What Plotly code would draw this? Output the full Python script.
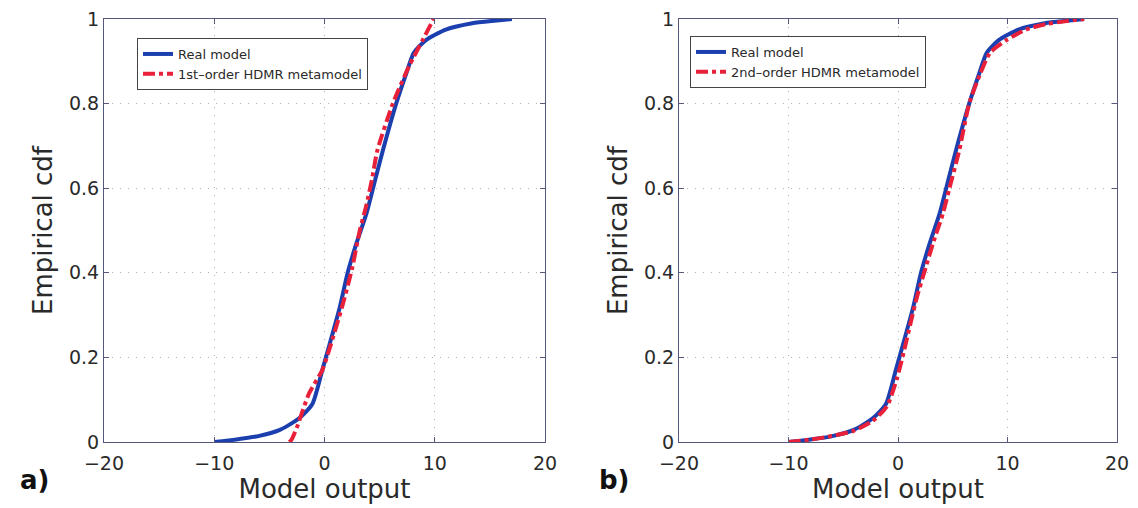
import plotly.graph_objects as go

# ---- data ----
real_x = [-10.0, -8.0, -6.0, -4.1, -2.3, -1.1, -0.2, 0.45, 1.4, 2.1, 2.9, 3.8, 4.5, 5.3, 6.5, 7.4, 8.1, 9.2, 11.0, 13.4, 15.4, 17.0]
real_y = [0.0, 0.006, 0.014, 0.028, 0.056, 0.09, 0.17, 0.23, 0.32, 0.40, 0.47, 0.54, 0.61, 0.69, 0.80, 0.87, 0.92, 0.95, 0.975, 0.99, 0.996, 1.0]

hdmr1_x = [-3.2, -3.0, -2.5, -1.4, -0.2, 0.45, 1.6, 2.5, 3.2, 3.8, 4.3, 4.8, 6.2, 7.7, 8.9, 9.9]
hdmr1_y = [0.0, 0.005, 0.035, 0.115, 0.17, 0.22, 0.32, 0.41, 0.50, 0.56, 0.62, 0.69, 0.80, 0.89, 0.95, 1.0]

hdmr2_x = [-10.0, -8.0, -6.5, -4.1, -2.3, -1.0, -0.1, 0.5, 1.7, 2.5, 3.2, 4.1, 4.7, 5.6, 6.5, 7.5, 8.4, 9.9, 11.7, 13.5, 15.4, 17.0]
hdmr2_y = [0.0, 0.006, 0.012, 0.026, 0.05, 0.085, 0.15, 0.21, 0.34, 0.41, 0.47, 0.54, 0.60, 0.69, 0.80, 0.87, 0.92, 0.95, 0.975, 0.988, 0.995, 1.0]

x_ticks = [-20, -10, 0, 10, 20]
y_ticks = [0, 0.2, 0.4, 0.6, 0.8, 1]

BLUE = "#1b3fae"
RED = "#e8203a"
FONT = "DejaVu Sans, Liberation Sans, sans-serif"
TXT = "#2a2a2a"

fig = go.Figure()

line_blue = dict(color=BLUE, width=4, shape="spline", smoothing=0.6)
line_red = dict(color=RED, width=4, dash="dashdot", shape="spline", smoothing=0.6)

fig.add_trace(go.Scatter(x=real_x, y=real_y, mode="lines", name="Real model",
                         line=line_blue, xaxis="x", yaxis="y", legend="legend"))
fig.add_trace(go.Scatter(x=hdmr1_x, y=hdmr1_y, mode="lines", name="1st\u2013order HDMR metamodel",
                         line=line_red, xaxis="x", yaxis="y", legend="legend"))
fig.add_trace(go.Scatter(x=real_x, y=real_y, mode="lines", name="Real model",
                         line=line_blue, xaxis="x2", yaxis="y2", legend="legend2"))
fig.add_trace(go.Scatter(x=hdmr2_x, y=hdmr2_y, mode="lines", name="2nd\u2013order HDMR metamodel",
                         line=line_red, xaxis="x2", yaxis="y2", legend="legend2"))

# page has an 8px body margin; figure is sized/positioned to compensate
OFF = 8
W, H = 1130, 500


def px(x):
    return (x - OFF) / W


def py(y):
    return (H - (y - OFF)) / H


ydom = [py(442), py(19)]

axis_common = dict(
    showline=True, linecolor="#55587a", linewidth=1, mirror="ticks",
    ticks="inside", ticklen=5, tickcolor="#55587a",
    showgrid=True, gridcolor="#b0b0b0", griddash="1px,7px", gridwidth=1,
    zeroline=False, automargin=False, ticklabeloverflow="allow",
    tickfont=dict(family=FONT, size=19, color=TXT),
    title_font=dict(family=FONT, size=26, color=TXT),
)

fig.update_layout(
    width=W, height=H,
    margin=dict(l=0, r=0, t=0, b=0),
    paper_bgcolor="white", plot_bgcolor="white",
    font=dict(family=FONT, color=TXT),
    xaxis=dict(domain=[px(104), px(545)], range=[-20, 20], tickvals=x_ticks, anchor="y",
               ticklabelstandoff=4, title=dict(text="Model output", standoff=0), **axis_common),
    yaxis=dict(domain=ydom, range=[0, 1], tickvals=y_ticks, anchor="x",
               title=dict(text="Empirical cdf", standoff=8), **axis_common),
    xaxis2=dict(domain=[px(679), px(1117)], range=[-20, 20], tickvals=x_ticks, anchor="y2",
                ticklabelstandoff=4, title=dict(text="Model output", standoff=0), **axis_common),
    yaxis2=dict(domain=ydom, range=[0, 1], tickvals=y_ticks, anchor="x2",
                title=dict(text="Empirical cdf", standoff=8), **axis_common),
    legend=dict(x=px(137), y=py(38), xanchor="left", yanchor="top",
                bgcolor="white", bordercolor="#444444", borderwidth=1,
                font=dict(family=FONT, size=13, color=TXT), tracegroupgap=0),
    legend2=dict(x=px(690), y=py(36), xanchor="left", yanchor="top",
                 bgcolor="white", bordercolor="#444444", borderwidth=1,
                 font=dict(family=FONT, size=13, color=TXT), tracegroupgap=0),
    showlegend=True,
    annotations=[
        dict(text="<b>a)</b>", x=px(18), y=py(480), xref="paper", yref="paper",
             xanchor="left", yanchor="middle", showarrow=False,
             font=dict(family=FONT, size=26, color="#111111")),
        dict(text="<b>b)</b>", x=px(597), y=py(480), xref="paper", yref="paper",
             xanchor="left", yanchor="middle", showarrow=False,
             font=dict(family=FONT, size=26, color="#111111")),
    ],
)

fig.write_html("out.html")
